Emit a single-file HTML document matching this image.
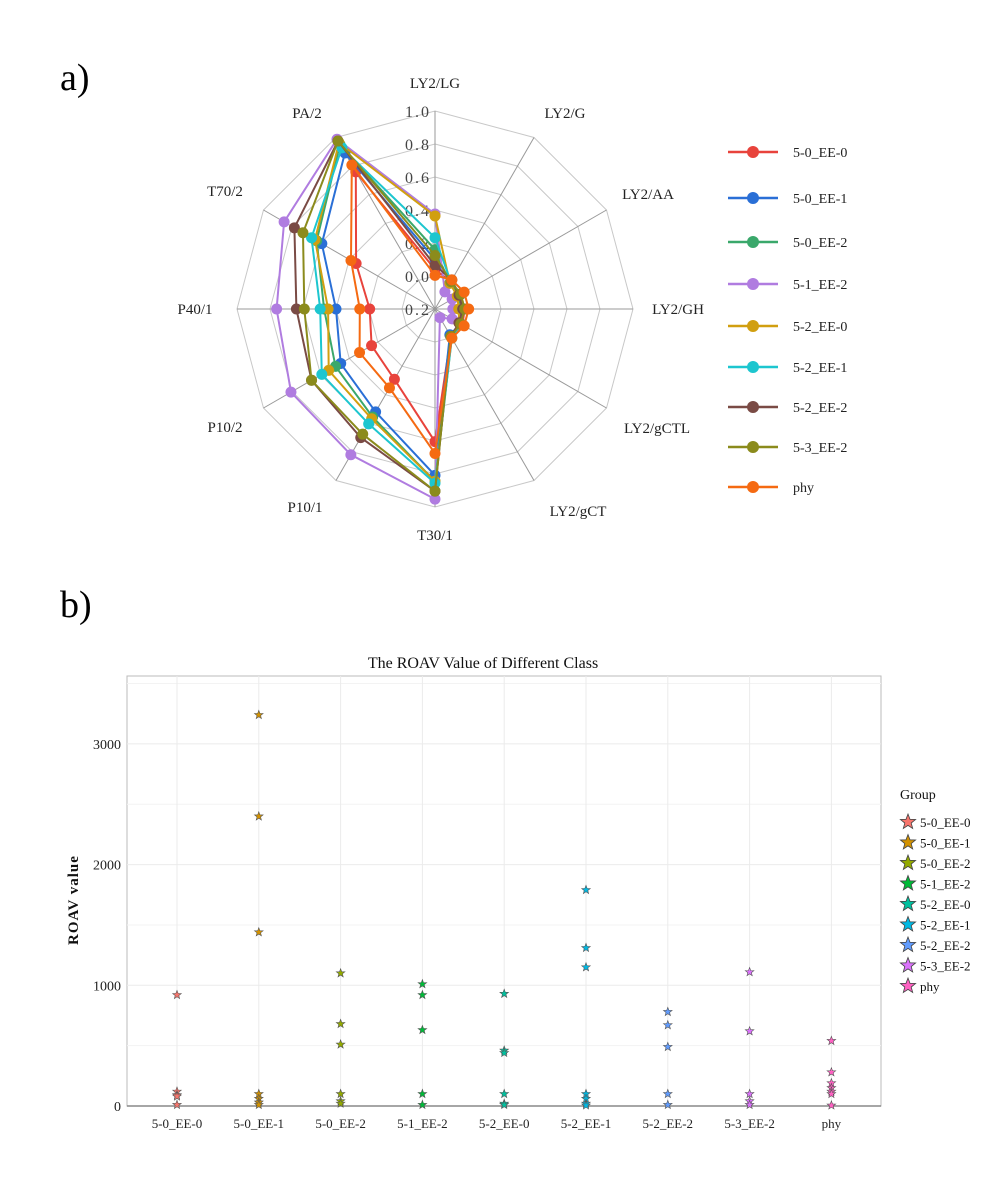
<!DOCTYPE html>
<html><head><meta charset="utf-8"><style>
html,body{margin:0;padding:0;background:#fff;width:992px;height:1190px;overflow:hidden}
svg{display:block}
</style></head><body>
<svg id="s" width="992" height="1190" xmlns="http://www.w3.org/2000/svg" font-family="Liberation Serif, serif">
<text x="60" y="90" font-size="38">a)</text>
<text x="60" y="617" font-size="38">b)</text>
<g id="radar"></g>
<g id="leg1"></g>
<g id="bar"></g>
</svg>
<script>
const NS="http://www.w3.org/2000/svg";
function el(p,t,a,txt){const e=document.createElementNS(NS,t);for(const k in a)e.setAttribute(k,a[k]);if(txt!=null)e.textContent=txt;p.appendChild(e);return e;}
const R=document.getElementById('radar');
const cx=435,cy=309,RR=198;
function pt(i,f){const a=i*Math.PI/6;return [cx+RR*f*Math.sin(a),cy-RR*f*Math.cos(a)];}
for(let k=1;k<=6;k++){let d='';for(let i=0;i<12;i++){const p=pt(i,k/6);d+=(i?'L':'M')+p[0].toFixed(1)+','+p[1].toFixed(1);}el(R,'path',{d:d+'Z',fill:'none',stroke:'#c8c8c8','stroke-width':1});}
for(let i=0;i<12;i++){const p=pt(i,1);el(R,'line',{x1:cx,y1:cy,x2:p[0],y2:p[1],stroke:'#999','stroke-width':1});}
const ticks=['0.2','0.0','0.2','0.4','0.6','0.8','1.0'];
for(let k=0;k<=6;k++){el(R,'text',{x:cx-4,y:cy-RR*k/6+6,'font-size':16,'text-anchor':'end',fill:'#444','letter-spacing':'2'},ticks[k]);}
const labs=[['LY2/LG',435,88],['LY2/G',565,118],['LY2/AA',648,199],['LY2/GH',678,314],['LY2/gCTL',657,433],['LY2/gCT',578,516],['T30/1',435,540],['P10/1',305,512],['P10/2',225,432],['P40/1',195,314],['T70/2',225,196],['PA/2',307,118]];
labs.forEach(l=>el(R,'text',{x:l[1],y:l[2],'font-size':15,'text-anchor':'middle',fill:'#222'},l[0]));
const ser=[
['5-0_EE-0','#e8433c',[.2,.16,.15,.15,.16,.16,.67,.41,.37,.33,.46,.80]],
['5-0_EE-1','#2a6fd6',[.25,.16,.14,.14,.15,.15,.84,.60,.55,.50,.66,.91]],
['5-0_EE-2','#3aa86b',[.3,.15,.14,.13,.15,.16,.87,.63,.58,.56,.69,.96]],
['5-1_EE-2','#b07ce0',[.48,.1,.1,.09,.1,.05,.96,.85,.84,.80,.88,.99]],
['5-2_EE-0','#d19f10',[.47,.15,.13,.12,.14,.17,.87,.64,.62,.54,.70,.97]],
['5-2_EE-1','#1dc6cf',[.36,.16,.15,.14,.15,.17,.88,.67,.66,.58,.72,.94]],
['5-2_EE-2','#7a4b45',[.22,.17,.14,.14,.14,.16,.92,.75,.72,.70,.82,.98]],
['5-3_EE-2','#8b8b1c',[.27,.16,.15,.15,.15,.16,.92,.73,.72,.66,.77,.98]],
['phy','#f56a12',[.17,.17,.17,.17,.17,.17,.73,.46,.44,.38,.49,.84]]];
ser.forEach(s=>{let d='';s[2].forEach((f,i)=>{const p=pt(i,f);d+=(i?'L':'M')+p[0].toFixed(1)+','+p[1].toFixed(1);});el(R,'path',{d:d+'Z',fill:'none',stroke:s[1],'stroke-width':2});s[2].forEach((f,i)=>{const p=pt(i,f);el(R,'circle',{cx:p[0],cy:p[1],r:5.5,fill:s[1]});});});
const L=document.getElementById('leg1');
const ly=[152,198,242,284,326,367,407,447,487];
ser.forEach((s,i)=>{el(L,'line',{x1:728,y1:ly[i],x2:778,y2:ly[i],stroke:s[1],'stroke-width':2.5});el(L,'circle',{cx:753,cy:ly[i],r:6,fill:s[1]});el(L,'text',{x:793,y:ly[i]+5,'font-size':14,fill:'#222'},s[0]);});
const B=document.getElementById('bar');
const x0=127,x1=881,y0=676,yb=1106,sc=0.1207;
el(B,'rect',{x:x0,y:y0,width:x1-x0,height:yb-y0,fill:'#fff',stroke:'#bbb','stroke-width':1});
for(let v=500;v<3600;v+=500){const y=yb-v*sc;el(B,'line',{x1:x0,y1:y,x2:x1,y2:y,stroke:v%1000?'#f3f3f3':'#ebebeb','stroke-width':1});}
const cats=['5-0_EE-0','5-0_EE-1','5-0_EE-2','5-1_EE-2','5-2_EE-0','5-2_EE-1','5-2_EE-2','5-3_EE-2','phy'];
cats.forEach((c,i)=>{const x=177+i*81.8;el(B,'line',{x1:x,y1:y0,x2:x,y2:yb,stroke:'#ebebeb'});el(B,'text',{x:x,y:yb+22,'font-size':13,'text-anchor':'middle',fill:'#222'},c);});
el(B,'line',{x1:x0,y1:yb,x2:x1,y2:yb,stroke:'#888','stroke-width':1.5});
[0,1000,2000,3000].forEach(v=>el(B,'text',{x:x0-6,y:yb-v*sc+5,'font-size':14,'text-anchor':'end',fill:'#222'},String(v)));
el(B,'text',{x:483,y:668,'font-size':16,'text-anchor':'middle',fill:'#111'},'The ROAV Value of Different Class');
el(B,'text',{x:78,y:900,'font-size':15,'text-anchor':'middle',transform:'rotate(-90 78 900)',fill:'#111','font-weight':'bold','letter-spacing':'1'},'ROAV value');
const cols=['#F8766D','#D39200','#93AA00','#00BA38','#00C19F','#00B9E3','#619CFF','#DB72FB','#FF61C3'];
const vals=[[920,120,90,80,10],[3240,2400,1440,100,60,30,10],[1100,680,510,100,40,20],[1010,920,630,100,10],[930,460,440,100,20,10],[1790,1310,1150,100,60,20,5],[780,670,490,100,10],[1110,620,100,40,10],[540,280,190,150,120,100,5]];
function star(cx,cy,r){let d='';for(let k=0;k<10;k++){const rr=k%2?r*0.42:r;const a=k*Math.PI/5;d+=(k?'L':'M')+(cx+rr*Math.sin(a)).toFixed(1)+','+(cy-rr*Math.cos(a)).toFixed(1);}return d+'Z';}
vals.forEach((vs,i)=>{const x=177+i*81.8;vs.forEach(v=>el(B,'path',{d:star(x,yb-v*sc,4.5),fill:cols[i],stroke:'#555','stroke-width':0.6}));});
el(B,'text',{x:900,y:799,'font-size':14,fill:'#111'},'Group');
cols.forEach((c,i)=>{const y=822+i*20.5;el(B,'path',{d:star(908,y,8),fill:c,stroke:'#444','stroke-width':0.8});el(B,'text',{x:920,y:y+5,'font-size':13,fill:'#111'},cats[i]);});
</script>
</body></html>
